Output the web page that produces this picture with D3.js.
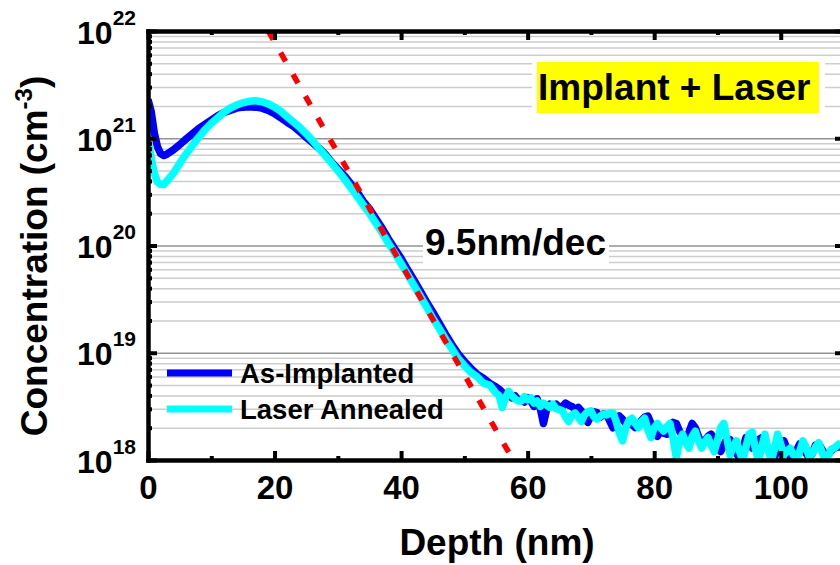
<!DOCTYPE html>
<html>
<script src='https://d3js.org/d3.v7.min.js'></script>
<style>
  body {margin: 0; background: #fff;}
  text {font-family: Arial, 'Liberation Sans', sans-serif; font-weight: bold; fill: #000;}
</style>
<body onload='init()'>
<svg width=840 height=565></svg>
<script>
// depth in nm, concentrations in cm^-3
const depth = [0,0.5,1,1.5,2,2.5,3,
  4,5,6,7,8,9,10,11,12,13,
  14,15,16,17,18,19,20,21,22,23,
  24,25,26,27,28,29,30,31,32,33,
  34,35,36,37,38,39,40,41,42,43,
  44,45,46,47,48,49,50,51,52,53,
  54,55,
  55.5,56,56.5,57,57.5,58,58.5,59,59.5,60,
  60.5,61,61.5,62,62.5,63,63.5,64,64.5,65,
  65.5,66,66.5,67,67.5,68,68.5,69,69.5,70,
  70.5,71,71.5,72,72.5,73,73.5,74,74.5,75,
  75.5,76,76.5,77,77.5,78,78.5,79,79.5,80,
  80.5,81,81.5,82,82.5,83,83.5,84,84.5,85,
  85.5,86,86.5,87,87.5,88,88.5,89,89.5,90,
  90.5,91,91.5,92,92.5,93,93.5,94,94.5,95,
  95.5,96,96.5,97,97.5,98,98.5,99,99.5,100,
  100.5,101,101.5,102,102.5,103,103.5,104,104.5,105,
  105.5,106,106.5,107,107.5,108,108.5,109,109.5]

const asImplanted = [2.3e21,1.78e21,1.12e21,8.3e20,7.2e20,6.9e20,7.1e20,
  7.8e20,8.7e20,9.8e20,1.10e21,1.23e21,1.35e21,1.48e21,1.62e21,1.74e21,1.82e21,
  1.91e21,1.95e21,1.97e21,1.95e21,1.91e21,1.82e21,1.70e21,1.55e21,1.41e21,1.29e21,
  1.15e21,1.02e21,9.1e20,8.1e20,7.1e20,6.0e20,5.2e20,4.5e20,3.8e20,3.2e20,
  2.6e20,2.2e20,1.78e20,1.45e20,1.15e20,9.3e19,7.6e19,6.0e19,4.8e19,3.8e19,
  3.0e19,2.4e19,1.9e19,1.5e19,1.2e19,9.8e18,8.3e18,7.2e18,6.3e18,5.8e18,
  5.2e18,4.8e18,
  4.57e18,4.27e18,4.07e18,4.17e18,3.80e18,3.98e18,3.63e18,3.63e18,3.47e18,3.80e18,
  3.55e18,3.16e18,3.72e18,3.02e18,2.19e18,2.95e18,3.31e18,3.16e18,3.31e18,3.09e18,
  3.16e18,3.39e18,3.24e18,3.16e18,2.95e18,3.09e18,2.88e18,2.51e18,2.24e18,2.57e18,
  2.82e18,2.75e18,2.51e18,2.69e18,2.63e18,2.29e18,2.00e18,2.29e18,2.57e18,2.40e18,
  2.19e18,2.29e18,2.14e18,2.00e18,2.09e18,2.34e18,2.51e18,2.57e18,2.19e18,1.78e18,
  1.66e18,1.86e18,1.78e18,1.74e18,2.00e18,2.24e18,2.19e18,1.86e18,1.66e18,1.58e18,
  1.82e18,2.19e18,2.00e18,1.66e18,1.45e18,1.51e18,1.66e18,1.74e18,1.58e18,1.32e18,
  1.20e18,1.38e18,1.58e18,1.55e18,1.32e18,1.15e18,1.05e18,1.26e18,1.62e18,1.51e18,
  1.29e18,1.38e18,1.55e18,1.62e18,1.51e18,1.26e18,1.07e18,1.05e18,1.26e18,1.48e18,
  1.51e18,1.26e18,1.07e18,1.05e18,1.23e18,1.41e18,1.35e18,1.15e18,1.05e18,1.15e18,
  1.38e18,1.41e18,1.26e18,1.12e18,1.12e18,1.23e18,1.29e18,1.32e18,1.32e18]

const laserAnnealed = [9.5e20,6.6e20,4.7e20,3.9e20,3.7e20,3.7e20,4.0e20,
  4.7e20,5.8e20,7.1e20,8.5e20,1.02e21,1.20e21,1.38e21,1.55e21,1.74e21,1.91e21,
  2.04e21,2.14e21,2.21e21,2.24e21,2.19e21,2.09e21,1.95e21,1.78e21,1.58e21,1.41e21,
  1.26e21,1.10e21,9.5e20,8.1e20,6.9e20,5.9e20,5.0e20,4.2e20,3.5e20,2.9e20,
  2.4e20,2.0e20,1.62e20,1.32e20,1.05e20,8.5e19,6.8e19,5.4e19,4.3e19,3.4e19,
  2.7e19,2.1e19,1.7e19,1.35e19,1.10e19,8.9e18,7.6e18,6.6e18,6.0e18,5.2e18,
  5.0e18,4.2e18,
  3.98e18,3.09e18,3.80e18,4.37e18,3.98e18,3.72e18,3.55e18,3.55e18,3.89e18,3.63e18,
  3.80e18,3.39e18,3.55e18,3.16e18,3.39e18,3.24e18,3.09e18,3.31e18,3.02e18,2.95e18,
  2.88e18,2.51e18,2.29e18,2.63e18,2.75e18,2.51e18,2.29e18,2.63e18,2.82e18,2.88e18,
  2.51e18,2.40e18,2.57e18,2.69e18,2.63e18,2.75e18,2.75e18,2.29e18,1.78e18,1.51e18,
  2.00e18,2.34e18,2.45e18,2.19e18,2.00e18,2.29e18,2.45e18,1.91e18,1.62e18,2.00e18,
  2.19e18,2.00e18,1.86e18,2.04e18,2.19e18,1.58e18,1.05e18,1.51e18,1.74e18,1.45e18,
  1.29e18,1.66e18,1.86e18,1.51e18,1.29e18,1.48e18,1.62e18,1.38e18,1.20e18,1.51e18,
  2.00e18,2.19e18,1.58e18,1.12e18,1.32e18,1.51e18,1.20e18,9.8e17,1.32e18,1.74e18,
  1.82e18,1.26e18,9.8e17,1.32e18,1.74e18,1.26e18,9.8e17,1.26e18,1.74e18,1.41e18,
  1.12e18,1.20e18,1.29e18,1.12e18,1.00e18,1.20e18,1.51e18,1.32e18,1.07e18,1.15e18,
  1.32e18,1.45e18,1.20e18,1.00e18,1.10e18,1.26e18,1.29e18,1.38e18,1.45e18]

// 9.5 nm/decade guide line
const fitDepth = [19.0, 57.7]
const fitConc = [1e22, 1e18]

const xTicks = [0, 20, 40, 60, 80, 100]
const xMinorTicks = [10, 30, 50, 70, 90]
const yTicks = [1e18, 1e19, 1e20, 1e21, 1e22]
const yTickExp = ['18', '19', '20', '21', '22']

const seriesNames = ['As-Implanted', 'Laser Annealed']
const seriesColors = ['#0000ff', '#00ffff']

function init() {
  var svg = d3.select('svg')
  var left = 148, right = 844, top = 31, bottom = 460
  var xs = d3.scaleLinear().domain([0, 110]).range([left, right])
  var ys = d3.scaleLog().domain([1e18, 1e22]).range([bottom, top])

  var yMinor = []
  yTicks.slice(0, -1).forEach(function(d){ for (var k = 2; k < 10; k++) yMinor.push(d*k) })

  // horizontal grid
  var gMinor = svg.append('g')
    .attr('transform', 'translate(' + left + ',0)')
    .call(d3.axisLeft(ys).tickValues(yMinor).tickSize(-(right - left)).tickFormat(''))
  gMinor.select('.domain').remove()
  gMinor.selectAll('line').attr('stroke', '#cdcdcd').attr('stroke-width', 1.5)

  var gMajor = svg.append('g')
    .attr('transform', 'translate(' + left + ',0)')
    .call(d3.axisLeft(ys).tickValues([1e19, 1e20, 1e21]).tickSize(-(right - left)).tickFormat(''))
  gMajor.select('.domain').remove()
  gMajor.selectAll('line').attr('stroke', '#939393').attr('stroke-width', 1.5)

  // label boxes that knock out the grid
  svg.append('rect').attr('x', 532).attr('y', 57).attr('width', 293).attr('height', 62).attr('fill', '#fff')
  svg.append('rect').attr('x', 537).attr('y', 62).attr('width', 282).attr('height', 51).attr('fill', '#ffff00')
  svg.append('rect').attr('x', 423).attr('y', 224).attr('width', 186).attr('height', 42).attr('fill', '#fff')

  svg.append('clipPath').attr('id', 'plot')
    .append('rect').attr('x', left).attr('y', top).attr('width', right - left).attr('height', bottom - top)

  var line = d3.line()
    .x(function(d){ return xs(d[0]) })
    .y(function(d){ return ys(d[1]) })

  var plot = svg.append('g').attr('clip-path', 'url(#plot)')
  ;[asImplanted, laserAnnealed].forEach(function(vals, i) {
    plot.append('path')
      .datum(depth.map(function(d, j){ return [d, vals[j]] }))
      .attr('d', line)
      .attr('fill', 'none')
      .attr('stroke', seriesColors[i])
      .attr('stroke-width', 7.5)
      .attr('stroke-linejoin', 'round')
  })

  plot.append('path')
    .datum(fitDepth.map(function(d, j){ return [d, fitConc[j]] }))
    .attr('d', line)
    .attr('fill', 'none')
    .attr('stroke', '#ff0000')
    .attr('stroke-width', 5.5)
    .attr('stroke-dasharray', '10,15')

  // axes, ticks pointing inwards
  function styleAxis(g, fs) {
    g.attr('font-family', null).attr('font-size', fs)
    g.selectAll('.tick line').attr('stroke', '#000').attr('stroke-width', 4)
    g.select('.domain').attr('stroke', '#000').attr('stroke-width', 4.5).attr('stroke-linecap', 'square')
  }

  var gx = svg.append('g').attr('transform', 'translate(0,' + bottom + ')')
    .call(d3.axisBottom(xs).tickValues(xTicks).tickSize(-9).tickSizeOuter(0).tickPadding(16))
  styleAxis(gx, 33)
  var gxm = svg.append('g').attr('transform', 'translate(0,' + bottom + ')')
    .call(d3.axisBottom(xs).tickValues(xMinorTicks).tickSize(-4).tickFormat(''))
  styleAxis(gxm, 10); gxm.select('.domain').remove()

  var gt = svg.append('g').attr('transform', 'translate(0,' + top + ')')
    .call(d3.axisTop(xs).tickValues(xTicks).tickSize(-9).tickSizeOuter(0).tickFormat(''))
  styleAxis(gt, 10)
  var gtm = svg.append('g').attr('transform', 'translate(0,' + top + ')')
    .call(d3.axisTop(xs).tickValues(xMinorTicks).tickSize(-4).tickFormat(''))
  styleAxis(gtm, 10); gtm.select('.domain').remove()

  var gy = svg.append('g').attr('transform', 'translate(' + left + ',0)')
    .call(d3.axisLeft(ys).tickValues(yTicks).tickSize(-9).tickSizeOuter(0).tickPadding(12))
  styleAxis(gy, 32)
  gy.selectAll('.tick text').each(function(d, i) {
    var t = d3.select(this).text(null).attr('dy', null)
    t.append('tspan').attr('dy', 12).style('font-size', '32px').text('10')
    t.append('tspan').attr('dy', -19).style('font-size', '21px').text(yTickExp[i])
  })
  var gym = svg.append('g').attr('transform', 'translate(' + left + ',0)')
    .call(d3.axisLeft(ys).tickValues(yMinor).tickSize(-4).tickFormat(''))
  styleAxis(gym, 10); gym.select('.domain').remove()

  var gr = svg.append('g').attr('transform', 'translate(' + right + ',0)')
    .call(d3.axisRight(ys).tickValues(yTicks).tickSize(-9).tickSizeOuter(0).tickFormat(''))
  styleAxis(gr, 10)
  var grm = svg.append('g').attr('transform', 'translate(' + right + ',0)')
    .call(d3.axisRight(ys).tickValues(yMinor).tickSize(-4).tickFormat(''))
  styleAxis(grm, 10); grm.select('.domain').remove()

  // titles
  svg.append('text')
    .attr('x', 497).attr('y', 555)
    .attr('text-anchor', 'middle')
    .style('font-size', '37px')
    .text('Depth (nm)')

  var yl = svg.append('text')
    .attr('transform', 'translate(47,256) rotate(-90)')
    .attr('text-anchor', 'middle')
    .style('font-size', '37px')
  yl.append('tspan').text('Concentration (cm')
  yl.append('tspan').attr('dy', -15).style('font-size', '24px').text('-3')
  yl.append('tspan').attr('dy', 15).text(')')

  svg.append('text').attr('x', 538).attr('y', 100).style('font-size', '37px').text('Implant + Laser')
  svg.append('text').attr('x', 425).attr('y', 255).style('font-size', '37px').text('9.5nm/dec')

  // legend
  seriesNames.forEach(function(name, i) {
    var yy = 373 + i*36
    svg.append('line')
      .attr('x1', 167).attr('x2', 232).attr('y1', yy).attr('y2', yy)
      .attr('stroke', seriesColors[i]).attr('stroke-width', 7)
    svg.append('text').attr('x', 240).attr('y', yy + 10)
      .style('font-size', '27.5px').text(name)
  })
}
</script>
</body>
</html>
